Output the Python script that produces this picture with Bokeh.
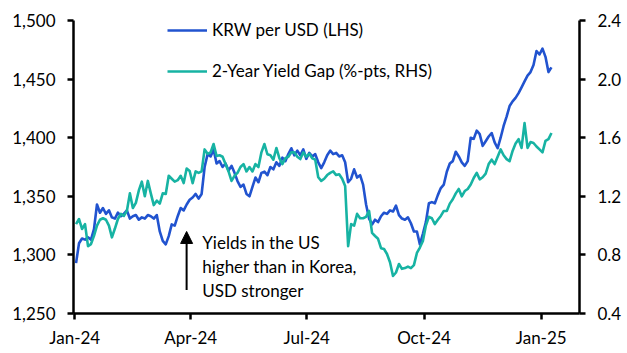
import pandas as pd
from bokeh.plotting import figure
from bokeh.models import (Range1d, LinearAxis, FixedTicker, NumeralTickFormatter,
                          DatetimeTickFormatter, Legend, LegendItem, Arrow, NormalHead, Label)
from bokeh.embed import file_html
from bokeh.resources import INLINE

# ---- data ----
krw = [1293, 1310, 1314, 1313, 1315, 1313, 1322, 1343, 1336, 1340,
       1335, 1338, 1332, 1331, 1336, 1333, 1335, 1338, 1331, 1333,
       1334, 1330, 1332, 1331, 1334, 1333, 1331, 1334, 1320, 1312,
       1309, 1316, 1326, 1325, 1333, 1340, 1338, 1343, 1347, 1349,
       1352, 1348, 1352, 1375, 1386, 1384, 1390, 1378, 1380, 1375,
       1378, 1372, 1376, 1370, 1363, 1358, 1360, 1352, 1350, 1358,
       1366, 1362, 1370, 1371, 1368, 1375, 1373, 1379, 1376, 1383,
       1380, 1386, 1391, 1385, 1389, 1385, 1390, 1382, 1387, 1384,
       1386, 1379, 1374, 1379, 1385, 1389, 1386, 1387, 1384, 1385,
       1379, 1362, 1365, 1373, 1366, 1368, 1360, 1343, 1331, 1326,
       1330, 1328, 1333, 1336, 1335, 1338, 1337, 1342, 1334, 1331,
       1330, 1332, 1327, 1320, 1320, 1309, 1318, 1328, 1344, 1345,
       1344, 1351, 1357, 1360, 1371, 1378, 1380, 1388, 1384, 1379,
       1376, 1380, 1400, 1399, 1406, 1403, 1393, 1397, 1401, 1404,
       1396, 1391, 1400, 1410, 1418, 1427, 1431, 1434, 1438, 1443,
       1448, 1453, 1456, 1462, 1474, 1471, 1476, 1469, 1456, 1460]

gap = [1.01, 1.045, 0.977, 1.01, 0.86, 0.874, 0.93, 1.0, 1.04, 1.05,
       1.04, 1.0, 0.92, 0.98, 1.045, 1.08, 1.066, 1.1, 1.22, 1.12,
       1.155, 1.24, 1.30, 1.20, 1.305, 1.22, 1.14, 1.17, 1.15, 1.22,
       1.216, 1.34, 1.32, 1.30, 1.31, 1.34, 1.29, 1.39, 1.373, 1.29,
       1.37, 1.36, 1.37, 1.52, 1.49, 1.50, 1.557, 1.475, 1.48, 1.47,
       1.42, 1.37, 1.305, 1.34, 1.36, 1.40, 1.42, 1.37, 1.40, 1.37,
       1.42, 1.40, 1.50, 1.557, 1.487, 1.48, 1.45, 1.53, 1.46, 1.42,
       1.46, 1.47, 1.50, 1.50, 1.47, 1.454, 1.50, 1.47, 1.49, 1.46,
       1.45, 1.33, 1.305, 1.32, 1.345, 1.36, 1.37, 1.345, 1.35, 1.32,
       1.27, 0.86, 1.01, 1.0, 1.08, 1.05, 1.05, 1.06, 1.1, 0.95,
       0.929, 0.91, 0.846, 0.84, 0.806, 0.75, 0.656, 0.68, 0.738, 0.705,
       0.71, 0.72, 0.71, 0.73, 0.813, 0.85, 0.895, 1.00, 1.06, 1.05,
       1.01, 1.04, 1.066, 1.1, 1.1, 1.15, 1.18, 1.22, 1.25, 1.20,
       1.236, 1.25, 1.28, 1.325, 1.36, 1.316, 1.33, 1.355, 1.42, 1.45,
       1.42, 1.47, 1.52, 1.48, 1.454, 1.44, 1.51, 1.56, 1.59, 1.53,
       1.70, 1.53, 1.57, 1.564, 1.54, 1.52, 1.50, 1.578, 1.59, 1.632]

dates = pd.date_range("2024-01-02", "2025-01-09", periods=len(krw))

left_ticks = [1250, 1300, 1350, 1400, 1450, 1500]
right_ticks = [0.4, 0.8, 1.2, 1.6, 2.0, 2.4]
x_tick_dates = ["2024-01-01", "2024-04-01", "2024-07-01", "2024-10-01", "2025-01-01"]

BLUE = "#2153cf"
TEAL = "#17b3a3"
FONT = "Lato"
FS = "17px"

p = figure(width=627, height=353, output_backend="svg", toolbar_location=None,
           x_axis_type="datetime",
           x_range=Range1d(pd.Timestamp("2023-12-31"), pd.Timestamp("2025-01-31")),
           y_range=Range1d(1250, 1500),
           min_border_left=73, min_border_right=48, min_border_top=20, min_border_bottom=40)
p.outline_line_color = None
p.grid.visible = False
p.extra_y_ranges = {"rhs": Range1d(0.4, 2.4)}

l1 = p.line(dates, krw, line_color=BLUE, line_width=2.6, line_join="round")
l2 = p.line(dates, gap, line_color=TEAL, line_width=2.6, line_join="round", y_range_name="rhs")

rax = LinearAxis(y_range_name="rhs")
p.add_layout(rax, "right")

p.yaxis[0].ticker = FixedTicker(ticks=left_ticks)
p.yaxis[0].formatter = NumeralTickFormatter(format="0,0")
rax.ticker = FixedTicker(ticks=right_ticks)
rax.formatter = NumeralTickFormatter(format="0.0")
p.xaxis.ticker = FixedTicker(ticks=[pd.Timestamp(d).value // 10**6 for d in x_tick_dates])
p.xaxis.formatter = DatetimeTickFormatter(days="%b-%y", months="%b-%y", years="%b-%y")

for ax in [p.xaxis[0], p.yaxis[0], rax]:
    ax.axis_line_width = 2.5
    ax.axis_line_color = "black"
    ax.major_tick_line_width = 2.5
    ax.major_tick_line_color = "black"
    ax.major_tick_in = 0
    ax.major_tick_out = 6
    ax.minor_tick_line_color = None
    ax.major_label_text_font = FONT
    ax.major_label_text_font_size = FS
    ax.major_label_text_color = "black"
    ax.major_label_standoff = 12
p.xaxis[0].major_label_standoff = 7

for item_label, r, yloc in [("KRW per USD (LHS)", l1, 273), ("2-Year Yield Gap (%-pts, RHS)", l2, 232)]:
    lg = Legend(items=[LegendItem(label=item_label, renderers=[r])], location=(94, yloc),
                padding=0, margin=0, border_line_color=None, background_fill_alpha=0,
                glyph_width=40, glyph_height=14, label_standoff=5, label_height=14,
                label_text_font=FONT, label_text_font_size=FS, label_text_color="black")
    p.add_layout(lg)

ann_x = pd.Timestamp("2024-03-28 18:00")
p.add_layout(Arrow(end=NormalHead(size=12, fill_color="black", line_color="black"),
                   x_start=ann_x, y_start=1270, x_end=ann_x, y_end=1320,
                   line_width=2, line_color="black"))
ann_lines = ["Yields in the US", "higher than in Korea,", "USD stronger"]
ann_y = [1311, 1290.5, 1270]
for t, yy in zip(ann_lines, ann_y):
    p.add_layout(Label(x=pd.Timestamp("2024-04-10"), y=yy, text=t, text_font=FONT,
                       text_font_size=FS, text_color="black", text_baseline="alphabetic"))

open("out.html", "w").write(file_html(p, INLINE))
